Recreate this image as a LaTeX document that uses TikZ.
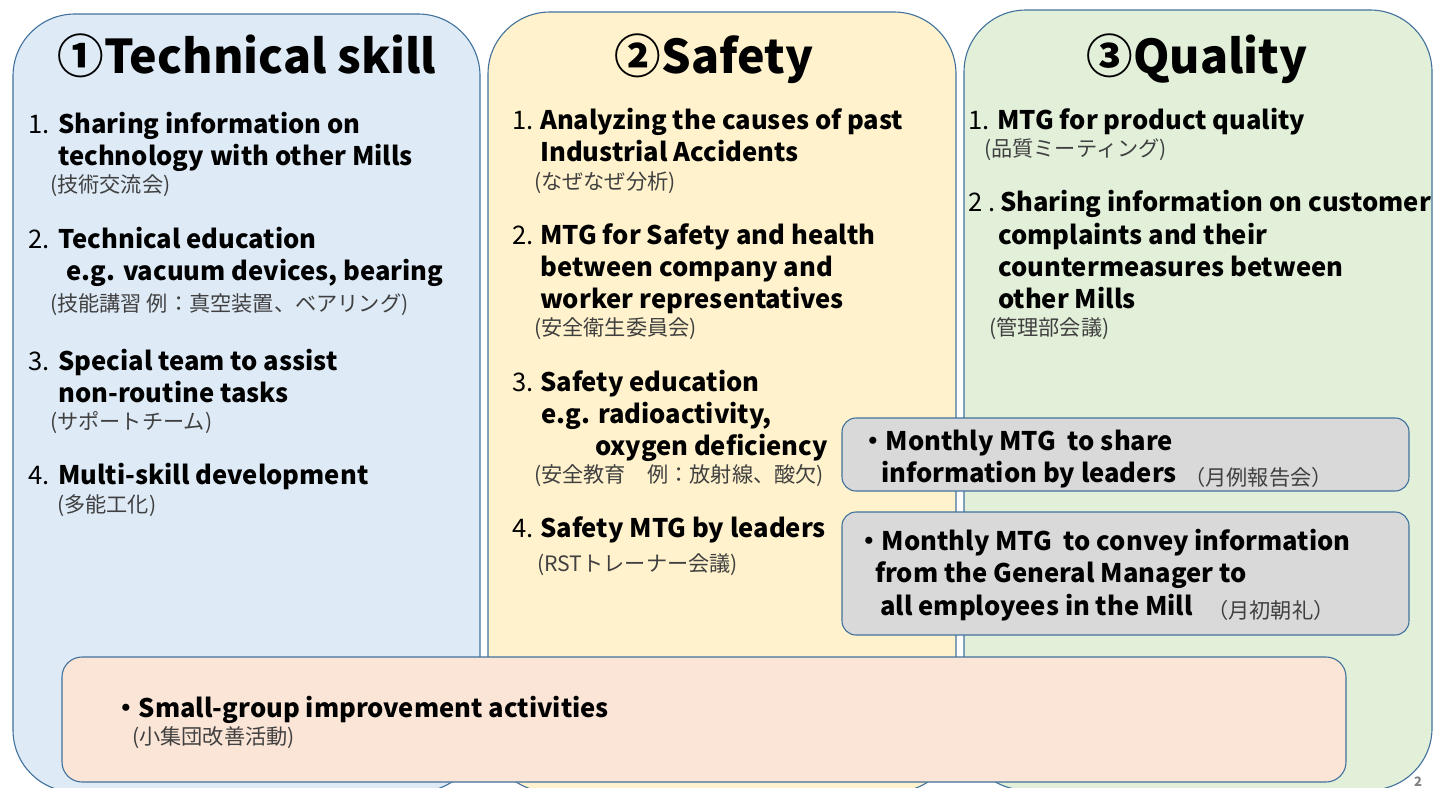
\documentclass[tikz,border=0pt]{standalone}
\usepackage{fontspec}
\setmainfont{Noto Sans CJK JP}

\definecolor{boxline}{HTML}{41719C}
\definecolor{skillblue}{HTML}{DEEBF7}
\definecolor{safetyyellow}{HTML}{FFF2CC}
\definecolor{qualitygreen}{HTML}{E2F0D9}
\definecolor{msggray}{HTML}{D9D9D9}
\definecolor{groupsalmon}{HTML}{FBE5D6}
\definecolor{notegray}{HTML}{404040}

\begin{document}
\begin{tikzpicture}[x=1pt, y=-1pt]
        \tikzstyle{panel}=[draw=boxline, line width=1.1pt, rounded corners=62pt];
        \tikzstyle{msgbox}=[draw=boxline, line width=1.1pt, rounded corners=14pt];
        \tikzstyle{head}=[font=\fontsize{46.5}{54}\selectfont\bfseries, anchor=base, inner sep=0pt];
        \tikzstyle{item}=[font=\fontsize{25.6}{30}\selectfont\bfseries, anchor=base west, inner sep=0pt];
        \tikzstyle{num}=[font=\fontsize{25.6}{30}\selectfont, anchor=base west, inner sep=0pt];
        \tikzstyle{note}=[font=\fontsize{21.2}{24}\selectfont, anchor=base west, inner sep=0pt, text=notegray];

        \useasboundingbox (0,0) rectangle (1442,787);

        % the three columns
        \draw[panel, fill=skillblue] (13,14) rectangle (480,792);
        \draw[panel, fill=safetyyellow] (488,12) rectangle (956,792);
        \draw[panel, fill=qualitygreen] (964,10) rectangle (1432,790);

        % meetings shared by safety and quality
        \draw[msgbox, fill=msggray] (842,418) rectangle (1409,491);
        \draw[msgbox, fill=msggray] (842,512) rectangle (1409,635);

        % small groups, across all columns
        \draw[msgbox, rounded corners=20pt, fill=groupsalmon] (62,657) rectangle (1346,782);

        % headings
        \node[head] (h1) at (247,73) {①Technical skill};
        \node[head] (h2) at (714,73) {②Safety};
        \node[head] (h3) at (1197,73) {③Quality};

        % 1 technical skill
        \foreach \y [count=\k] in {133, 248, 370, 484}{
          \node[num] (n1\k) at (28,\y) {\k.};
        }
        \foreach \x/\y/\t [count=\k] in {58/133/{Sharing information on}, 58/165/{technology with other Mills},
            58/248/{Technical education}, 66/280/{e.g. vacuum devices, bearing},
            58/370/{Special team to assist}, 58/402/{non-routine tasks},
            58/484/{Multi-skill development}}{
          \node[item] (a\k) at (\x,\y) {\t};
        }
        \foreach \x/\y/\t [count=\k] in {50/192/{(技術交流会)}, 50/311/{(技能講習 例：真空装置、ベアリング)},
            50/429/{(サポートチーム)}, 57/512/{(多能工化)}}{
          \node[note] (p\k) at (\x,\y) {\t};
        }

        % 2 safety
        \foreach \y [count=\k] in {129, 244, 391, 537}{
          \node[num] (n2\k) at (512,\y) {\k.};
        }
        \foreach \x/\y/\t [count=\k] in {540/129/{Analyzing the causes of past}, 540/161/{Industrial Accidents},
            540/244/{MTG for Safety and health}, 540/276/{between company and},
            540/308/{worker representatives}, 540/391/{Safety education},
            541/423/{e.g. radioactivity,}, 595/455/{oxygen deficiency},
            540/537/{Safety MTG by leaders}}{
          \node[item] (b\k) at (\x,\y) {\t};
        }
        \foreach \x/\y/\t [count=\k] in {534/189/{(なぜなぜ分析)}, 534/335/{(安全衛生委員会)},
            534/482/{(安全教育　例：放射線、酸欠)}, 537/571/{(RSTトレーナー会議)}}{
          \node[note] (q\k) at (\x,\y) {\t};
        }

        % 3 quality
        \node[num] (n31) at (968,129) {1.};
        \node[num] (n32) at (968,211) {2 .};
        \foreach \x/\y/\t [count=\k] in {997/129/{MTG for product quality}, 1000/211/{Sharing information on customer},
            998/244/{complaints and their}, 998/276/{countermeasures between},
            998/308/{other Mills}}{
          \node[item] (c\k) at (\x,\y) {\t};
        }
        \node[note] (r1) at (984,156) {(品質ミーティング)};
        \node[note] (r2) at (989,335) {(管理部会議)};

        % monthly meetings
        \node[item] (m1) at (860,450) {・Monthly MTG\ \ to share};
        \node[item] (m2) at (881,482) {information by leaders};
        \node[note] (m3) at (1184,485) {（月例報告会）};
        \node[item] (m4) at (856,550) {・Monthly MTG\ \ to convey information};
        \node[item] (m5) at (875,582) {from the General Manager to};
        \node[item] (m6) at (880,615) {all employees in the Mill};
        \node[note] (m7) at (1207,618) {（月初朝礼）};

        % small groups
        \node[item] (g1) at (113,717) {・Small-group improvement activities};
        \node[note] (g2) at (132,744) {(小集団改善活動)};

        \node[font=\fontsize{13}{14}\selectfont\bfseries, text=gray, anchor=base] (pg) at (1418,786) {2};
\end{tikzpicture}
\end{document}
